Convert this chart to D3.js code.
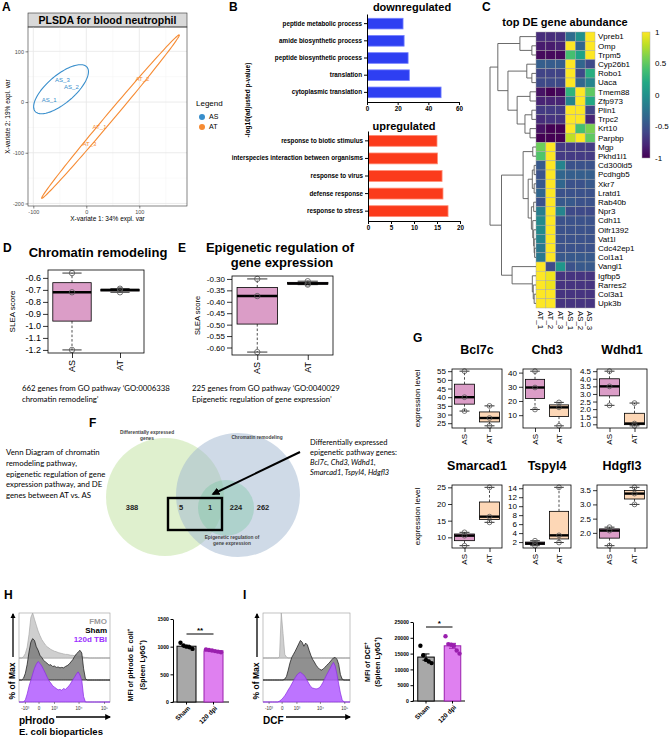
<!DOCTYPE html>
<html>
<head>
<meta charset="utf-8">
<script src="https://cdn.jsdelivr.net/npm/d3@7/dist/d3.min.js"></script>
<style>
html,body{margin:0;padding:0;background:#fff;}
svg{display:block;}
</style>
</head>
<body>
<svg id="fig" width="669" height="738" viewBox="0 0 669 738"></svg>
<script>
// ======================= DATA =======================
const plsdaSamples = ["AS_1","AS_2","AS_3","AT_1","AT_2","AT_3"];
const plsdaGroup   = ["AS","AS","AS","AT","AT","AT"];
const plsdaX       = [-70,-28,-45,25,106,6];
const plsdaY       = [4,29,43,-49,45,-82];
const plsdaTicksX  = [-100,0,100];
const plsdaTicksY  = [-200,-100,0,100];

const goDownTerms  = ["peptide metabolic process","amide biosynthetic process","peptide biosynthetic process","translation","cytoplasmic translation"];
const goDownValues = [23.5,24.2,26.8,27.6,48.3];
const goDownTicks  = [0,20,40,60];
const goUpTerms    = ["response to biotic stimulus","interspecies interaction between organisms","response to virus","defense response","response to stress"];
const goUpValues   = [15.0,15.1,16.1,16.3,17.4];
const goUpTicks    = [0,5,10,15,20];

const heatGenes = ["Vpreb1","Omp","Trpm5","Cyp26b1","Robo1","Uaca","Tmem88","Zfp973","Plin1","Trpc2","Krt10","Parpbp",
  "Mgp","Pkhd1l1","Cd300ld5","Pcdhgb5","Xkr7","Lratd1","Rab40b","Npr3","Cdh11","Olfr1392","Vat1l","Cdc42ep1","Col1a1",
  "Vangl1","Igfbp5","Rarres2","Col3a1","Upk3b"];
const heatSamples = ["AT_1","AT_2","AT_3","AS_1","AS_2","AS_3"];
const heatValues = [
  [-0.75,-0.75,-0.72,-0.3,0.0,1],
  [-0.85,-0.85,-0.8,1,-0.35,1],
  [-0.95,-0.95,-0.95,0.4,0.15,1],
  [-0.4,-0.42,-0.42,1,-0.35,-0.55],
  [-0.6,-0.6,-0.6,1,-0.55,0.25],
  [-0.55,-0.55,-0.55,1,-0.35,-0.1],
  [-0.9,-1,-0.95,0.3,1,0.5],
  [-0.8,-0.8,-0.8,-0.1,1,0.2],
  [-0.65,-0.65,-0.65,1,1,-0.6],
  [-0.75,-0.7,-0.7,1,1,-0.8],
  [-0.9,-1,-1,1,0.4,0.6],
  [-1,-1,-1,0.8,1,0.5],
  [0.55,1,-0.65,-0.65,-0.65,-0.65],
  [0.45,1,-0.65,-0.65,-0.65,-0.65],
  [-0.45,1,-0.1,-0.5,-0.5,-0.5],
  [-0.5,1,-0.35,-0.4,-0.4,-0.4],
  [-0.45,1,-0.35,-0.5,-0.5,-0.45],
  [-0.35,1,-0.5,-0.5,-0.5,-0.5],
  [-0.5,1,-0.45,-0.45,-0.5,-0.5],
  [-0.15,1,-0.1,-0.55,-0.55,-0.55],
  [-0.05,1,-0.5,-0.5,-0.5,-0.5],
  [-0.05,1,-0.5,-0.5,-0.5,-0.5],
  [-0.1,1,-0.5,-0.5,-0.5,-0.5],
  [-0.2,1,-0.5,-0.5,-0.5,-0.5],
  [-0.2,1,-0.45,-0.45,-0.45,-0.45],
  [1,-0.55,0.05,-0.5,-0.45,-0.45],
  [1,0.95,-0.7,-0.7,-0.7,-0.7],
  [1,0.95,-0.7,-0.7,-0.7,-0.7],
  [1,1,-0.7,-0.7,-0.7,-0.7],
  [1,1,-0.7,-0.7,-0.7,-0.7]
];
const heatLegendTicks = [1,0.5,0,-0.5,-1];
// row dendrogram: [mergeHeight, left, right]
const rowTree = [10,
  [8.3, [3.5,"Vpreb1",[0.9,"Omp","Trpm5"]],
        [6.1, [2.0,"Cyp26b1",[0.9,"Robo1","Uaca"]],
              [4.1, [1.3,"Tmem88","Zfp973"], [2.4,[0.9,"Plin1","Trpc2"],[1.3,"Krt10","Parpbp"]]]]],
  [7.5, [2.8, [0.7,"Mgp","Pkhd1l1"],
              [1.7, [0.8,[0.4,"Cd300ld5","Pcdhgb5"],[0.4,"Xkr7","Lratd1"]],
                    [1.0,[0.5,"Rab40b","Npr3"],[0.7,"Cdh11",[0.5,"Olfr1392",[0.4,"Vat1l",[0.3,"Cdc42ep1","Col1a1"]]]]]]],
        [5.2,"Vangl1",[0.8,"Igfbp5",[0.6,"Rarres2",[0.4,"Col3a1","Upk3b"]]]]]
];

const sleaChromAS = [-0.56,-0.72,-1.20];
const sleaChromAT = [-0.69,-0.70,-0.72];
const sleaChromTicks = [-1.2,-1.1,-1.0,-0.9,-0.8,-0.7,-0.6];
const sleaEpiAS = [-0.30,-0.375,-0.62];
const sleaEpiAT = [-0.31,-0.32,-0.325];
const sleaEpiTicks = [-0.60,-0.55,-0.50,-0.45,-0.40,-0.35,-0.30];

const geneNames = ["Bcl7c","Chd3","Wdhd1","Smarcad1","Tspyl4","Hdgfl3"];
const exprAS = [[55,40,32],[41,29.5,14],[4.5,3.5,2.25],[11.5,10.5,7.5],[2.3,1.7,1.2],[2.2,2.08,1.55]];
const exprAT = [[35,28,23.5],[19,15.5,2.5],[2.4,1.05,0.9],[25,16.2,14.5],[14.2,3.5,1.9],[3.6,3.38,3.0]];
const geneTicks = [[25,30,35,40,45,50,55],[10,20,30,40],[1.0,1.5,2.0,2.5,3.0,3.5,4.0,4.5],[10,15,20,25],[2,4,6,8,10,12,14],[2.0,2.5,3.0,3.5]];
const geneTickDecimals = [0,0,1,0,0,1];

const vennSets = ["Differentially expressed genes","Chromatin remodeling","Epigenetic regulation of gene expression"];
const vennCounts = [388,5,1,224,262];

const flowTickCh = [7,22,39,66,94];
const flowTickLabels = ["-10³","0","10³","10⁴","10⁵"];
const phrodoFMO  = [0,0,3,10,24,52,90,100,86,73,60,50,41,35,29,25,22,19,17,15,14,12,11,10,9,8,8,7,6,6,5,5,4,4,3,2,1,1,0,0,0,0,0,0,0,0,0,0,0,0];
const phrodoSham = [0,0,4,15,35,62,84,92,88,74,66,55,50,44,40,37,33,34,30,31,28,29,27,28,27,30,32,35,40,45,52,58,62,66,60,25,3,0,0,0,0,0,0,0,0,0,0,0,0,0];
const phrodoTBI  = [0,0,0,5,18,35,48,62,75,84,90,86,80,72,64,55,47,42,36,33,30,27,28,26,30,28,32,36,42,49,55,62,67,60,48,12,0,0,0,0,0,0,0,0,0,0,0,0,0,0];
const dcfFMO  = [0,0,0,0,0,0,0,0,0,3,100,55,8,2,0,0,0,0,0,0,0,0,0,0,0,0,0,0,0,0,0,0,0,0,0,0,0,0,0,0,0,0,0,0,0,0,0,0,0,0];
const dcfSham = [0,0,0,0,0,0,0,0,0,0,0,0,2,8,22,38,50,57,64,72,80,88,84,75,82,78,66,55,46,40,33,28,24,22,24,28,32,36,40,45,49,50,46,35,12,2,0,0,0,0];
const dcfTBI  = [0,0,0,0,0,0,0,0,0,2,5,9,14,20,27,33,40,47,54,60,64,66,63,60,54,47,40,34,31,30,29,30,32,37,44,52,60,67,74,82,88,80,62,40,20,5,0,0,0,0];

const mfiGroups = ["Sham","120 dpi"];
const phrodoMfiSham = [1070,1020,1000,990,960];
const phrodoMfiTBI  = [950,940,930,920,910,900];
const phrodoMfiTicks = [0,500,1000,1500];
const dcfMfiSham = [17500,14500,13000,12500,12000];
const dcfMfiTBI  = [20500,18000,17800,17500,16000,15000];
const dcfMfiTicks = [0,5000,10000,15000,20000,25000];

// ======================= HELPERS =======================
const FF = '"Liberation Sans", Arial, Helvetica, sans-serif';
const CF = 'Lato, "Open Sans", "Liberation Sans", sans-serif';
const svg = d3.select("#fig").attr("font-family", FF);
svg.append("rect").attr("width",669).attr("height",738).attr("fill","#fff");
const defs = svg.append("defs");
defs.append("marker").attr("id","ahK").attr("viewBox","0 0 10 10").attr("refX",8).attr("refY",5)
  .attr("markerWidth",4).attr("markerHeight",4).attr("orient","auto")
  .append("path").attr("d","M0,0L10,5L0,10Z").attr("fill","#000");

function T(g,x,y,s,size,o={}){
  const t=g.append("text").attr("x",x).attr("y",y).attr("font-size",size).text(s);
  if(o.w) t.attr("font-weight",o.w);
  if(o.a) t.attr("text-anchor",o.a);
  if(o.f) t.attr("font-family",o.f);
  if(o.c) t.attr("fill",o.c);
  if(o.dy) t.attr("dy",o.dy);
  if(o.st) t.attr("font-style",o.st);
  if(o.r!=null) t.attr("transform",`rotate(${o.r},${x},${y})`);
  return t;
}
function sty(a,size,o={}){
  a.attr("font-size",size).attr("font-family",o.f||FF).attr("font-weight",o.w||"normal");
  a.selectAll(".tick text").attr("fill",o.c||"#000");
  a.selectAll(".tick line").attr("stroke",o.lc||"#000").attr("stroke-width",o.lw||0.8);
  if(o.nd) a.select(".domain").remove();
  else a.select(".domain").attr("stroke",o.lc||"#000").attr("stroke-width",o.lw||0.8);
  return a;
}
function fivenum(v){
  const s=[...v].sort((a,b)=>a-b), n=s.length, n4=Math.floor((n+3)/2)/2;
  return [1,n4,(n+1)/2,n+1-n4,n].map(i=>0.5*(s[Math.floor(i)-1]+s[Math.ceil(i)-1]));
}
function ellipsePts(xs,ys,k){
  const n=xs.length, mx=d3.mean(xs), my=d3.mean(ys);
  let sxx=0,syy=0,sxy=0;
  for(let i=0;i<n;i++){const dx=xs[i]-mx, dy=ys[i]-my; sxx+=dx*dx; syy+=dy*dy; sxy+=dx*dy;}
  sxx/=n-1; syy/=n-1; sxy/=n-1;
  const tr=sxx+syy, det=sxx*syy-sxy*sxy, disc=Math.sqrt(Math.max(0,tr*tr/4-det));
  const l1=tr/2+disc, l2=Math.max(0,tr/2-disc);
  const th=Math.atan2(l1-sxx,sxy);
  const a=Math.sqrt(l1)*k, b=Math.sqrt(l2)*k;
  return d3.range(0,121).map(j=>{const t=j/120*2*Math.PI, ex=a*Math.cos(t), ey=b*Math.sin(t);
    return [mx+ex*Math.cos(th)-ey*Math.sin(th), my+ex*Math.sin(th)+ey*Math.cos(th)];});
}

[["A",2,11],["B",229,11],["C",482,11],["D",3,252],["E",178,252],["F",89,427],["G",413,342],["H",4,599],["I",243,599]]
  .forEach(d=>T(svg,d[1],d[2],d[0],12,{w:"bold"}));

// ======================= PANEL A =======================
(function(){
  const g=svg.append("g");
  const L=28,R=187,Tp=27,B=206;
  const x=d3.scaleLinear().domain([-110,190]).range([L,R]);
  const y=d3.scaleLinear().domain([-205,148]).range([B,Tp]);
  g.append("rect").attr("x",L).attr("y",13).attr("width",R-L).attr("height",Tp-13).attr("fill","#d9d9d9").attr("stroke","#333").attr("stroke-width",0.6);
  T(g,(L+R)/2,23.8,"PLSDA for blood neutrophil",10.5,{w:"bold",a:"middle"});
  const mid=(a)=>a.slice(0,-1).map((d,i)=>(d+a[i+1])/2);
  const minX=mid(plsdaTicksX).concat([150]), minY=mid(plsdaTicksY);
  g.selectAll(null).data(minX).join("line").attr("x1",d=>x(d)).attr("x2",d=>x(d)).attr("y1",Tp).attr("y2",B).attr("stroke","#f3f3f3").attr("stroke-width",0.5);
  g.selectAll(null).data(minY).join("line").attr("y1",d=>y(d)).attr("y2",d=>y(d)).attr("x1",L).attr("x2",R).attr("stroke","#f3f3f3").attr("stroke-width",0.5);
  g.selectAll(null).data(plsdaTicksX).join("line").attr("x1",d=>x(d)).attr("x2",d=>x(d)).attr("y1",Tp).attr("y2",B).attr("stroke","#e6e6e6").attr("stroke-width",0.8);
  g.selectAll(null).data(plsdaTicksY).join("line").attr("y1",d=>y(d)).attr("y2",d=>y(d)).attr("x1",L).attr("x2",R).attr("stroke","#e6e6e6").attr("stroke-width",0.8);
  const col={AS:"#388ECC",AT:"#F68B33"};
  ["AS","AT"].forEach(gr=>{
    const idx=plsdaGroup.map((d,i)=>d===gr?i:-1).filter(i=>i>=0);
    const pts=ellipsePts(idx.map(i=>plsdaX[i]),idx.map(i=>plsdaY[i]),Math.sqrt(5.991));
    g.append("path").attr("d",d3.line().x(d=>x(d[0])).y(d=>y(d[1]))(pts)).attr("fill","none").attr("stroke",col[gr]).attr("stroke-width",1.1);
  });
  plsdaSamples.forEach((s,i)=>T(g,x(plsdaX[i]),y(plsdaY[i]),s,6,{a:"middle",c:col[plsdaGroup[i]],dy:"0.35em"}));
  g.append("rect").attr("x",L).attr("y",Tp).attr("width",R-L).attr("height",B-Tp).attr("fill","none").attr("stroke","#333").attr("stroke-width",0.6);
  const xa=g.append("g").attr("transform",`translate(0,${B})`).call(d3.axisBottom(x).tickValues(plsdaTicksX).tickFormat(d=>String(d)).tickSize(2.5).tickSizeOuter(0).tickPadding(1.5));
  sty(xa,5.5,{c:"#4d4d4d",lc:"#333",lw:0.6,nd:true});
  const ya=g.append("g").attr("transform",`translate(${L},0)`).call(d3.axisLeft(y).tickValues(plsdaTicksY).tickFormat(d=>String(d)).tickSize(2.5).tickSizeOuter(0).tickPadding(1.5));
  sty(ya,5.5,{c:"#4d4d4d",lc:"#333",lw:0.6,nd:true});
  T(g,(L+R)/2,221,"X-variate 1: 34% expl. var",6.5,{a:"middle"});
  T(g,10,(Tp+B)/2,"X-variate 2: 19% expl. var",6.5,{a:"middle",r:-90});
  T(g,196,106,"Legend",8);
  ["AS","AT"].forEach((gr,i)=>{
    g.append("circle").attr("cx",202).attr("cy",117+i*10).attr("r",3).attr("fill",col[gr]);
    T(g,209,117+i*10,gr,7,{dy:"0.35em"});
  });
})();

// ======================= PANEL B =======================
(function(){
  const g=svg.append("g");
  function barBlock(terms,vals,ticks,xr,yr,fill,stroke){
    const x=d3.scaleLinear().domain([ticks[0],ticks[ticks.length-1]]).range(xr);
    const y=d3.scaleBand().domain(terms).range(yr).paddingInner(0.38).paddingOuter(0.25);
    g.selectAll(null).data(terms).join("rect").attr("x",xr[0]+0.5).attr("y",d=>y(d)).attr("height",y.bandwidth())
      .attr("width",(d,i)=>x(vals[i])-xr[0]-0.5).attr("fill",fill).attr("stroke",stroke).attr("stroke-width",0.8);
    const ya=g.append("g").attr("transform",`translate(${xr[0]},0)`).call(d3.axisLeft(y).tickSize(3).tickSizeOuter(0).tickPadding(2));
    sty(ya,6.3,{w:"bold",lw:1});
    const xa=g.append("g").attr("transform",`translate(0,${yr[1]})`).call(d3.axisBottom(x).tickValues(ticks).tickFormat(d=>String(d)).tickSize(3).tickSizeOuter(0).tickPadding(2));
    sty(xa,6.3,{w:"bold",lw:1});
  }
  T(g,412,11,"downregulated",11,{w:"bold",a:"middle"});
  barBlock(goDownTerms,goDownValues,goDownTicks,[367,459],[14,102],"#2e3ff2","#7480ff");
  T(g,404,130,"upregulated",11,{w:"bold",a:"middle"});
  barBlock(goUpTerms,goUpValues,goUpTicks,[368,460],[131,221],"#fb3b1b","#ff8f78");
  T(g,250,100,"-log10(adjusted p-value)",6.5,{w:"bold",a:"middle",r:-90});
})();

// ======================= PANEL C =======================
(function(){
  const g=svg.append("g");
  T(g,565,26,"top DE gene abundance",11,{w:"bold",a:"middle"});
  const y=d3.scaleBand().domain(heatGenes).range([32,308]);
  const x=d3.scaleBand().domain(heatSamples).range([536,595]);
  const col=v=>d3.interpolateViridis((v+1)/2);
  heatGenes.forEach((gn,i)=>{
    heatSamples.forEach((s,j)=>{
      g.append("rect").attr("x",x(s)).attr("y",y(gn)).attr("width",x.bandwidth()).attr("height",y.bandwidth())
        .attr("fill",col(heatValues[i][j])).attr("stroke","#a8a8a8").attr("stroke-width",0.45);
    });
    T(g,598,y(gn)+y.bandwidth()/2,gn,8,{dy:"0.35em"});
  });
  heatSamples.forEach(s=>T(g,x(s)+x.bandwidth()/2,311,s,7.8,{r:90,dy:"0.35em"}));
  const hx=d3.scaleLinear().domain([0,10]).range([536,490]);
  function node(n){
    if(typeof n==="string") return {y:y(n)+y.bandwidth()/2,h:0};
    const a=node(n[1]), b=node(n[2]);
    g.append("path").attr("d",`M${hx(a.h)},${a.y}H${hx(n[0])}V${b.y}H${hx(b.h)}`).attr("fill","none").attr("stroke","#5a5a5a").attr("stroke-width",0.9);
    return {y:(a.y+b.y)/2,h:n[0]};
  }
  node(rowTree);
  const gr=defs.append("linearGradient").attr("id","vir").attr("x1",0).attr("y1",1).attr("x2",0).attr("y2",0);
  d3.range(0,11).forEach(i=>gr.append("stop").attr("offset",i/10).attr("stop-color",d3.interpolateViridis(i/10)));
  const cy=d3.scaleLinear().domain([-1,1]).range([158,32]);
  g.append("rect").attr("x",642).attr("y",cy(1)).attr("width",8).attr("height",cy(-1)-cy(1)).attr("fill","url(#vir)").attr("stroke","#aaa").attr("stroke-width",0.5);
  heatLegendTicks.forEach(v=>T(g,655,cy(v),String(v),8,{dy:"0.35em"}));
})();

// ======================= BOX PLOTS (D, E, G) =======================
const pinkAS="#db9dc7", peachAT="#fdd7b6";
function boxPanel(g,o){
  const all=o.groups.flatMap(d=>d.values);
  const [mn,mx]=d3.extent(all), pad=(mx-mn)*0.04;
  const y=d3.scaleLinear().domain([mn-pad,mx+pad]).range([o.y1,o.y0]);
  const x=d3.scaleLinear().domain([0.5,o.groups.length+0.5]).range([o.x0,o.x1]);
  const bw=(x(1)-x(0))*0.8;
  o.groups.forEach((gr,i)=>{
    const cx=x(i+1); const [lo,q1,md,q3,hi]=fivenum(gr.values);
    g.append("line").attr("x1",cx).attr("x2",cx).attr("y1",y(q3)).attr("y2",y(hi)).attr("stroke","#000").attr("stroke-width",0.7).attr("stroke-dasharray","2.5,2");
    g.append("line").attr("x1",cx).attr("x2",cx).attr("y1",y(q1)).attr("y2",y(lo)).attr("stroke","#000").attr("stroke-width",0.7).attr("stroke-dasharray","2.5,2");
    [lo,hi].forEach(v=>g.append("line").attr("x1",cx-bw/4).attr("x2",cx+bw/4).attr("y1",y(v)).attr("y2",y(v)).attr("stroke","#000").attr("stroke-width",0.8));
    g.append("rect").attr("x",cx-bw/2).attr("y",y(q3)).attr("width",bw).attr("height",Math.max(0.5,y(q1)-y(q3))).attr("fill",gr.fill).attr("stroke","#000").attr("stroke-width",0.8);
    g.append("line").attr("x1",cx-bw/2).attr("x2",cx+bw/2).attr("y1",y(md)).attr("y2",y(md)).attr("stroke","#000").attr("stroke-width",2.4);
    gr.values.forEach(v=>g.append("circle").attr("cx",cx).attr("cy",y(v)).attr("r",o.pr).attr("fill","none").attr("stroke","#555").attr("stroke-width",0.8));
    T(g,cx,o.y1+o.tl+2,gr.label,o.xfs,{a:"end",r:-90,dy:"0.35em"});
  });
  g.append("rect").attr("x",o.x0).attr("y",o.y0).attr("width",o.x1-o.x0).attr("height",o.y1-o.y0).attr("fill","none").attr("stroke","#000").attr("stroke-width",0.8);
  const ya=g.append("g").attr("transform",`translate(${o.x0},0)`).call(d3.axisLeft(y).tickValues(o.ticks).tickFormat(d=>d.toFixed(o.dec)).tickSize(o.tl).tickSizeOuter(0).tickPadding(2));
  sty(ya,o.fs,{nd:true,lw:0.8});
  const xa=g.append("g").attr("transform",`translate(0,${o.y1})`).call(d3.axisBottom(x).tickValues(d3.range(1,o.groups.length+1)).tickFormat("").tickSize(o.tl).tickSizeOuter(0));
  sty(xa,o.fs,{nd:true,lw:0.8});
  if(o.ylab) T(g,o.ylabX,(o.y0+o.y1)/2,o.ylab,o.ylabFs,{a:"middle",r:-90,dy:"0.35em"});
}

(function(){
  const g=svg.append("g");
  T(g,98,257,"Chromatin remodeling",13,{w:"bold",a:"middle"});
  boxPanel(g,{x0:48,x1:144,y0:270,y1:353,groups:[{label:"AS",values:sleaChromAS,fill:pinkAS},{label:"AT",values:sleaChromAT,fill:pinkAS}],
    ticks:sleaChromTicks,dec:1,fs:9,tl:5,pr:2.7,xfs:9,ylab:"SLEA score",ylabX:12,ylabFs:8});
  T(g,22,391,"662 genes from GO pathway ‘GO:0006338",7.8,{f:CF});
  T(g,22,402,"chromatin remodeling’",7.8,{f:CF});
})();
(function(){
  const g=svg.append("g");
  T(g,280,252,"Epigenetic regulation of",13,{w:"bold",a:"middle"});
  T(g,282,267,"gene expression",13,{w:"bold",a:"middle"});
  boxPanel(g,{x0:232,x1:333,y0:276,y1:355,groups:[{label:"AS",values:sleaEpiAS,fill:pinkAS},{label:"AT",values:sleaEpiAT,fill:pinkAS}],
    ticks:sleaEpiTicks,dec:2,fs:8,tl:5,pr:2.7,xfs:9,ylab:"SLEA score",ylabX:197,ylabFs:7.5});
  T(g,192,391,"225 genes from GO pathway ‘GO:0040029",7.8,{f:CF});
  T(g,192,402,"Epigenetic regulation of gene expression’",7.8,{f:CF});
})();
(function(){
  const g=svg.append("g");
  const cols=[[452,502],[523,571],[597,647]], rows=[[369,428],[485,548]];
  geneNames.forEach((gn,i)=>{
    const c=cols[i%3], r=rows[Math.floor(i/3)];
    T(g,(c[0]+c[1])/2,r[0]-15,gn,12.5,{w:"bold",a:"middle"});
    boxPanel(g,{x0:c[0],x1:c[1],y0:r[0],y1:r[1],groups:[{label:"AS",values:exprAS[i],fill:pinkAS},{label:"AT",values:exprAT[i],fill:peachAT}],
      ticks:geneTicks[i],dec:geneTickDecimals[i],fs:8,tl:4,pr:2.4,xfs:8});
  });
  rows.forEach(r=>T(g,417,(r[0]+r[1])/2,"expression level",8,{a:"middle",r:-90,dy:"0.35em"}));
})();

// ======================= PANEL F (Venn) =======================
(function(){
  const g=svg.append("g");
  g.append("circle").attr("cx",165).attr("cy",497).attr("r",59).attr("fill","#c5e3a5").attr("fill-opacity",0.55);
  g.append("circle").attr("cx",238).attr("cy",495).attr("r",62).attr("fill","#9fb5cf").attr("fill-opacity",0.5);
  g.append("circle").attr("cx",226).attr("cy",508).attr("r",28).attr("fill","#6fc39a").attr("fill-opacity",0.35);
  T(g,147,434,"Differentially expressed",4.8,{a:"middle",c:"#444",w:"bold"});
  T(g,147,440,"genes",4.8,{a:"middle",c:"#444",w:"bold"});
  T(g,257,439,vennSets[1],4.8,{a:"middle",c:"#444",w:"bold"});
  T(g,232,539,"Epigenetic regulation of",4.8,{a:"middle",c:"#444",w:"bold"});
  T(g,232,545,"gene expression",4.8,{a:"middle",c:"#444",w:"bold"});
  const nx=[132,181,210,236,263];
  vennCounts.forEach((v,i)=>T(g,nx[i],510,String(v),7.5,{a:"middle",w:"bold",c:"#222"}));
  g.append("rect").attr("x",168).attr("y",498).attr("width",54).attr("height",32).attr("fill","none").attr("stroke","#000").attr("stroke-width",2.4);
  g.append("line").attr("x1",300).attr("y1",452).attr("x2",213).attr("y2",494).attr("stroke","#000").attr("stroke-width",2).attr("marker-end","url(#ahK)");
  ["Venn Diagram of chromatin","remodeling pathway,","epigenetic regulation of gene","expression pathway, and DE","genes between AT vs. AS"]
    .forEach((s,i)=>T(g,6,455+i*10.8,s,7.8,{f:CF}));
  T(g,310,445,"Differentially expressed",7.5,{f:CF});
  T(g,310,455,"epigenetic pathway genes:",7.5,{f:CF});
  T(g,310,465,"Bcl7c, Chd3, Wdhd1,",7.5,{f:CF,st:"italic"});
  T(g,310,475,"Smarcad1, Tspyl4, Hdgfl3",7.5,{f:CF,st:"italic"});
})();

// ======================= FLOW HISTOGRAMS (H, I) =======================
function flowHist(g,o){
  const cx=d3.scaleLinear().domain([0,100]).range([o.x0,o.x1]);
  g.append("rect").attr("x",o.x0).attr("y",o.y0).attr("width",o.x1-o.x0).attr("height",o.y1-o.y0).attr("fill","#fff").attr("stroke","#9a9a9a").attr("stroke-width",0.6);
  o.layers.forEach(L=>{ if(L.base<o.y1) g.append("line").attr("x1",o.x0).attr("x2",o.x1).attr("y1",L.base).attr("y2",L.base).attr("stroke","#8a8a8a").attr("stroke-width",0.5);});
  o.layers.forEach(L=>{
    const hy=d3.scaleLinear().domain([0,100]).range([L.base,L.base-o.hmax]);
    const pts=[[0,0]].concat(L.vals.map((v,i)=>[i*2+1,v])).concat([[100,0]]);
    g.append("path").attr("d",d3.area().x(d=>cx(d[0])).y0(L.base).y1(d=>hy(d[1]))(pts))
      .attr("fill",L.fill).attr("fill-opacity",L.op).attr("stroke",L.stroke).attr("stroke-width",0.7);
  });
  flowTickCh.forEach((c,i)=>{
    g.append("line").attr("x1",cx(c)).attr("x2",cx(c)).attr("y1",o.y1).attr("y2",o.y1+2).attr("stroke","#333").attr("stroke-width",0.5);
    T(g,cx(c),o.y1+7.5,flowTickLabels[i],4.5,{a:"middle",c:"#333"});
  });
  g.append("line").attr("x1",o.x0-6).attr("x2",o.x0-6).attr("y1",o.y0+44).attr("y2",o.y0+1).attr("stroke","#000").attr("stroke-width",1.3).attr("marker-end","url(#ahK)");
  T(g,o.x0-7,o.y0+68,"% of Max",8.5,{w:"bold",a:"middle",r:-90,dy:"0.35em"});
  T(g,o.x0,724,o.xlab,10,{w:"bold"});
  g.append("line").attr("x1",o.arrowX0).attr("x2",o.x1).attr("y1",717).attr("y2",717).attr("stroke","#000").attr("stroke-width",1.5).attr("marker-end","url(#ahK)");
  if(o.xlab2) T(g,o.x0,735,o.xlab2,9.5,{w:"bold"});
}
function barDots(g,o){
  const y=d3.scaleLinear().domain([0,o.ticks[o.ticks.length-1]]).range([o.y0,o.yTop]);
  const ya=g.append("g").attr("transform",`translate(${o.ax},0)`).call(d3.axisLeft(y).tickValues(o.ticks).tickFormat(d=>String(d)).tickSize(2.5).tickSizeOuter(0).tickPadding(1.5));
  sty(ya,5.2,{w:"bold",lw:1});
  g.append("line").attr("x1",o.ax-0.5).attr("x2",o.axEnd).attr("y1",o.y0).attr("y2",o.y0).attr("stroke","#000").attr("stroke-width",1);
  o.groups.forEach((gr,i)=>{
    const cx=o.centers[i], m=d3.mean(gr.vals), se=d3.deviation(gr.vals)/Math.sqrt(gr.vals.length);
    g.append("rect").attr("x",cx-o.bw/2).attr("y",y(m)).attr("width",o.bw).attr("height",o.y0-y(m)).attr("fill",gr.fill).attr("stroke",gr.stroke).attr("stroke-width",1);
    g.append("line").attr("x1",cx).attr("x2",cx).attr("y1",o.y0).attr("y2",o.y0+2.5).attr("stroke","#000").attr("stroke-width",1);
    g.append("line").attr("x1",cx).attr("x2",cx).attr("y1",y(m-se)).attr("y2",y(m+se)).attr("stroke",gr.dot).attr("stroke-width",1);
    [m-se,m+se].forEach(v=>g.append("line").attr("x1",cx-3.5).attr("x2",cx+3.5).attr("y1",y(v)).attr("y2",y(v)).attr("stroke",gr.dot).attr("stroke-width",1));
    const n=gr.vals.length;
    gr.vals.forEach((v,j)=>g.append("circle").attr("cx",cx+(j-(n-1)/2)*o.sp).attr("cy",y(v)).attr("r",2.2).attr("fill",gr.dot));
    T(g,cx+2.5,o.y0+5,gr.label,6.5,{w:"bold",a:"end",r:-45,dy:"0.35em"});
  });
  g.append("line").attr("x1",o.centers[0]).attr("x2",o.centers[1]).attr("y1",o.sigY).attr("y2",o.sigY).attr("stroke","#000").attr("stroke-width",1);
  T(g,(o.centers[0]+o.centers[1])/2,o.sigY-1.5,o.sig,8,{w:"bold",a:"middle"});
  o.ylab.forEach((ln,k)=>{
    const t=g.append("text").attr("x",o.ylabX[k]).attr("y",o.ylabY).attr("font-size",7).attr("font-weight","bold").attr("text-anchor","middle").attr("dy","0.35em")
      .attr("transform",`rotate(-90,${o.ylabX[k]},${o.ylabY})`);
    ln.forEach(p=>{ const s=t.append("tspan").text(p[0]); if(p[1]) s.attr("font-size",4.8).attr("dy",-3); if(p[2]) s.attr("dy",3); });
  });
}
(function(){
  const g=svg.append("g");
  flowHist(g,{x0:19,x1:110,y0:613,y1:702,hmax:45,xlab:"pHrodo",xlab2:"E. coli bioparticles",arrowX0:56,
    layers:[{vals:phrodoFMO,base:658,fill:"#cfcfcf",stroke:"#a8a8a8",op:1},
            {vals:phrodoSham,base:680,fill:"#7d7d7d",stroke:"#111",op:0.85},
            {vals:phrodoTBI,base:702,fill:"#b15cff",stroke:"#8a2be2",op:0.85}]});
  T(g,107,624,"FMO",8,{w:"bold",a:"end",c:"#9a9a9a"});
  T(g,107,633,"Sham",8,{w:"bold",a:"end",c:"#000"});
  T(g,107,642,"120d TBI",8,{w:"bold",a:"end",c:"#9b30ff"});
  barDots(g,{ax:173,axEnd:229,y0:702,yTop:619,ticks:phrodoMfiTicks,centers:[186.5,213.5],bw:19,sp:3,sigY:634,sig:"**",
    groups:[{label:mfiGroups[0],vals:phrodoMfiSham,fill:"#a8a8a8",stroke:"#000",dot:"#000"},
            {label:mfiGroups[1],vals:phrodoMfiTBI,fill:"#df80f0",stroke:"#9a1fae",dot:"#9a1fae"}],
    ylabX:[131,143],ylabY:665,
    ylab:[[["MFI of pHrodo E. coli"],["+",1],["",0,1]],[["(Spleen Ly6G"],["+",1],[")",0,1]]]});
})();
(function(){
  const g=svg.append("g");
  flowHist(g,{x0:263,x1:350,y0:613,y1:702,hmax:45,xlab:"DCF",arrowX0:286,
    layers:[{vals:dcfFMO,base:658,fill:"#cfcfcf",stroke:"#a8a8a8",op:1},
            {vals:dcfSham,base:680,fill:"#7d7d7d",stroke:"#111",op:0.85},
            {vals:dcfTBI,base:702,fill:"#b15cff",stroke:"#8a2be2",op:0.85}]});
  barDots(g,{ax:413,axEnd:465,y0:701,yTop:622,ticks:dcfMfiTicks,centers:[426,452.5],bw:16.5,sp:2.8,sigY:627,sig:"*",
    groups:[{label:mfiGroups[0],vals:dcfMfiSham,fill:"#a8a8a8",stroke:"#000",dot:"#000"},
            {label:mfiGroups[1],vals:dcfMfiTBI,fill:"#df80f0",stroke:"#9a1fae",dot:"#9a1fae"}],
    ylabX:[368,378],ylabY:662,
    ylab:[[["MFI of DCF"],["+",1],["",0,1]],[["(Spleen Ly6G"],["+",1],[")",0,1]]]});
})();
</script>
</body>
</html>
